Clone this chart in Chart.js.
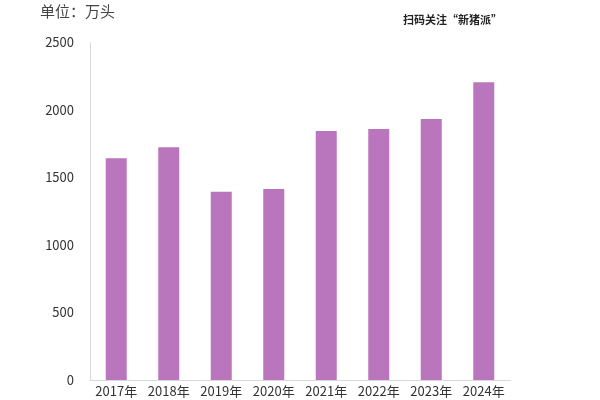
<!DOCTYPE html>
<html lang="zh">
<head>
    <meta charset="UTF-8">
    <title>单位：万头</title>
    <script src="https://cdn.jsdelivr.net/npm/chart.js"></script>
    <style>
        body { margin: 0; background: #fff; }
        .wrap { position: relative; width: 600px; height: 400px; }
        .unit {
            position: absolute; left: 40px; top: 0px;
            font: 15px "Noto Sans CJK SC", sans-serif; color: #444;
        }
        .qr {
            position: absolute; left: 403px; top: 11px;
            font: bold 11px "Noto Sans CJK SC", sans-serif; color: #222;
        }
    </style>
</head>
<body>
    <div class="wrap">
        <canvas id="myChart" width="600" height="400"></canvas>
        <div class="unit">单位：万头</div>
        <div class="qr">扫码关注“新猪派”</div>
    </div>
    <script>
        // 年份与数值（万头）
        const years = ['2017年', '2018年', '2019年', '2020年', '2021年', '2022年', '2023年', '2024年'];
        const values = [1640, 1721, 1393, 1413, 1842, 1857, 1930, 2202];
        const yTicks = [0, 500, 1000, 1500, 2000, 2500];

        const font = { family: '"Noto Sans CJK SC", sans-serif', size: 13, lineHeight: 1 };

        new Chart(document.getElementById('myChart'), {
            type: 'bar',
            data: {
                labels: years,
                datasets: [{
                    data: values,
                    backgroundColor: '#b976bd',
                    barPercentage: 0.8,
                    categoryPercentage: 0.5
                }]
            },
            options: {
                responsive: false,
                animation: false,
                layout: { padding: { left: 0, right: 90, top: 42, bottom: 0 } },
                plugins: { legend: { display: false }, tooltip: { enabled: false } },
                scales: {
                    x: {
                        grid: { display: false },
                        border: { color: '#d9d9d9' },
                        ticks: { color: '#333', font: font, padding: -3, maxRotation: 0 },
                        afterFit: function (s) { s.height = 20; }
                    },
                    y: {
                        min: 0,
                        max: 2500,
                        afterBuildTicks: function (s) { s.ticks = yTicks.map(v => ({ value: v })); },
                        grid: { display: false },
                        border: { color: '#d9d9d9' },
                        ticks: { color: '#333', font: font, padding: 8, callback: v => String(v) },
                        afterFit: function (s) { s.width = 90; }
                    }
                }
            }
        });
    </script>
</body>
</html>
